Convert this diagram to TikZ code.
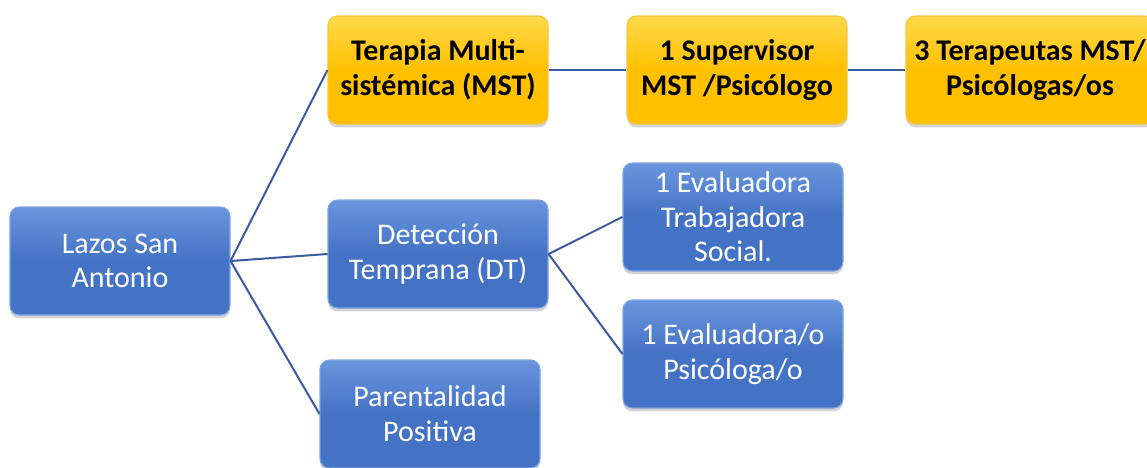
\documentclass[tikz,border=0pt]{standalone}
\usepackage{fontspec}
\setmainfont{Carlito}
\usetikzlibrary{shadows}
\definecolor{boxblue}{HTML}{4472C4}
\definecolor{boxbluetop}{HTML}{6A96DE}
\definecolor{boxblueedge}{HTML}{7FA4E2}
\definecolor{boxgold}{HTML}{FFC000}
\definecolor{boxgoldtop}{HTML}{FFD94A}
\definecolor{boxgoldedge}{HTML}{F5C542}
\definecolor{linkblue}{HTML}{3A5C9E}
\begin{document}
\begin{tikzpicture}[x=0.75pt,y=-0.75pt,
    bluebox/.style={rectangle,rounded corners=7pt,draw=boxblueedge,line width=0.8pt,
      top color=boxbluetop,bottom color=boxblue,middle color=boxblue,
      minimum width=165pt,minimum height=81pt,align=center,text=white,
      font=\fontsize{22.5}{26}\selectfont,
      drop shadow={opacity=0.35,shadow xshift=0pt,shadow yshift=-2.5pt}},
    goldbox/.style={bluebox,draw=boxgoldedge,top color=boxgoldtop,bottom color=boxgold,
      middle color=boxgold,text=black,font=\fontsize{22.5}{26}\selectfont\bfseries},
    link/.style={draw=linkblue,line width=1.5pt}]
  \useasboundingbox (0,0) rectangle (1147,468);
  \clip (0,0) rectangle (1147,468);
  \node[bluebox] (lazos) at (120,261) {Lazos San\\Antonio};
  \node[goldbox] (mst) at (438,70) {Terapia Multi-\\sistémica (MST)};
  \node[goldbox] (superv) at (737,70) {1 Supervisor\\MST /Psicólogo};
  \node[goldbox,minimum width=186pt] (terap) at (1030,70) {3 Terapeutas MST/\\Psicólogas/os};
  \node[bluebox] (deteccion) at (438,254) {Detección\\Temprana (DT)};
  \node[bluebox] (evalts) at (733,217) {1 Evaluadora\\Trabajadora\\Social.};
  \node[bluebox] (evalpsi) at (733,354) {1 Evaluadora/o\\Psicóloga/o};
  \node[bluebox] (parental) at (430,414) {Parentalidad\\Positiva};
  \draw[link] (lazos.east) -- (mst.west);
  \draw[link] (lazos.east) -- (deteccion.west);
  \draw[link] (lazos.east) -- (parental.west);
  \draw[link] (mst.east) -- (superv.west);
  \draw[link] (superv.east) -- (terap.west);
  \draw[link] (deteccion.east) -- (evalts.west);
  \draw[link] (deteccion.east) -- (evalpsi.west);
\end{tikzpicture}
\end{document}
